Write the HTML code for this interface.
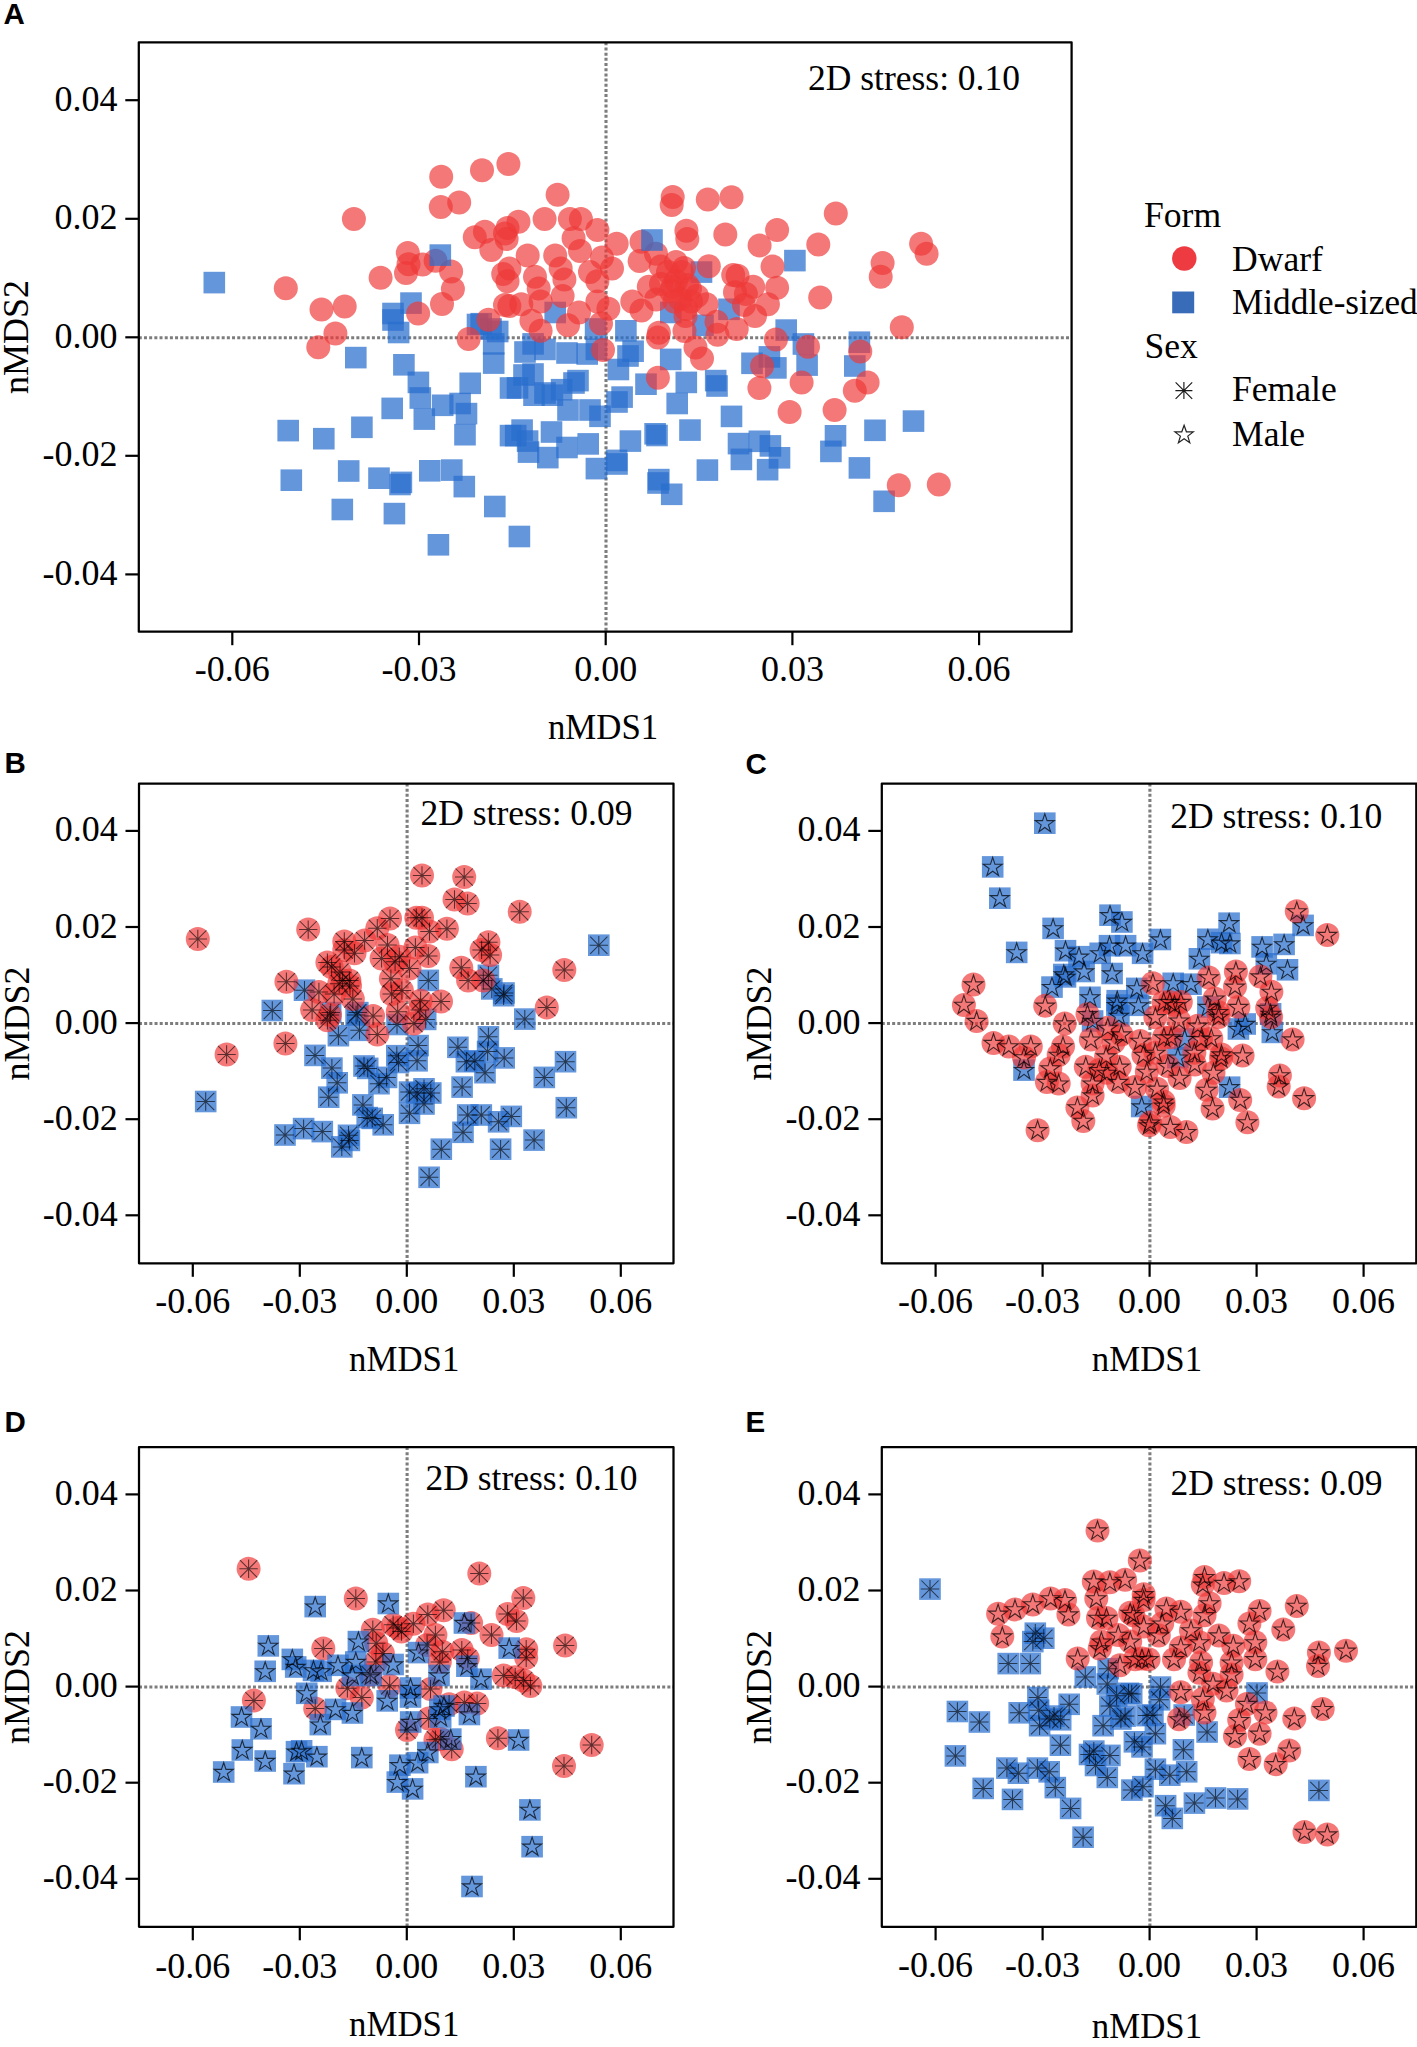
<!DOCTYPE html><html><head><meta charset="utf-8"><style>html,body{margin:0;padding:0;background:#fff;}svg{display:block;font-family:"Liberation Serif", serif;fill:#000;}text{fill:#000;}</style></head><body><svg width="1417" height="2047" viewBox="0 0 1417 2047">
<defs><circle id="c" r="12" fill="#ee3836" fill-opacity="0.68"/><rect id="s" x="-10.8" y="-10.8" width="21.6" height="21.6" fill="#286ecd" fill-opacity="0.72"/><path id="ast" d="M-9.2,0H9.2M0,-9.2V9.2M-8.6,-8.6L8.6,8.6M-8.6,8.6L8.6,-8.6" stroke="#000" stroke-opacity="0.62" stroke-width="1.05" fill="none"/><path id="star" d="M0.00,-9.50L2.25,-2.59L9.51,-2.59L3.63,1.68L5.88,8.59L0.00,4.32L-5.88,8.59L-3.63,1.68L-9.51,-2.59L-2.25,-2.59Z" stroke="#000" stroke-opacity="0.72" stroke-width="1.1" fill="none" stroke-linejoin="miter"/></defs>
<line x1="606" y1="42.3" x2="606" y2="631.7" stroke="#7d7d7d" stroke-width="3.1" stroke-dasharray="3 2.18"/>
<line x1="138.8" y1="337.7" x2="1071.6" y2="337.7" stroke="#7d7d7d" stroke-width="3.1" stroke-dasharray="3 2.18"/>
<use href="#s" x="214.3" y="282.6"/>
<use href="#s" x="355.8" y="357.6"/>
<use href="#s" x="411" y="303.1"/>
<use href="#s" x="393" y="313.5"/>
<use href="#s" x="393" y="320"/>
<use href="#s" x="398.6" y="332.5"/>
<use href="#s" x="477.5" y="324.5"/>
<use href="#s" x="497.7" y="331.5"/>
<use href="#s" x="701.5" y="272.1"/>
<use href="#s" x="670.8" y="312.5"/>
<use href="#s" x="729" y="309.3"/>
<use href="#s" x="703" y="325.3"/>
<use href="#s" x="625.9" y="330.8"/>
<use href="#s" x="595.6" y="329"/>
<use href="#s" x="555.2" y="312.5"/>
<use href="#s" x="491" y="329"/>
<use href="#s" x="794.9" y="260.6"/>
<use href="#s" x="786.2" y="330.1"/>
<use href="#s" x="403.9" y="364.8"/>
<use href="#s" x="418.4" y="382.4"/>
<use href="#s" x="420.3" y="398"/>
<use href="#s" x="424.3" y="419.1"/>
<use href="#s" x="392.2" y="408.4"/>
<use href="#s" x="442.7" y="405.3"/>
<use href="#s" x="460.1" y="403.5"/>
<use href="#s" x="470.2" y="383.3"/>
<use href="#s" x="466.5" y="413.6"/>
<use href="#s" x="465" y="434.7"/>
<use href="#s" x="493.7" y="343.9"/>
<use href="#s" x="493.7" y="363.1"/>
<use href="#s" x="481.2" y="323.7"/>
<use href="#s" x="288.2" y="430.6"/>
<use href="#s" x="323.8" y="438.7"/>
<use href="#s" x="361.9" y="427.3"/>
<use href="#s" x="291.3" y="480.2"/>
<use href="#s" x="348.7" y="471"/>
<use href="#s" x="379" y="478.2"/>
<use href="#s" x="401.4" y="482.4"/>
<use href="#s" x="400" y="484.5"/>
<use href="#s" x="429.8" y="470.8"/>
<use href="#s" x="451.8" y="470.1"/>
<use href="#s" x="464.3" y="486.6"/>
<use href="#s" x="342.3" y="509.5"/>
<use href="#s" x="394.4" y="513.6"/>
<use href="#s" x="438.4" y="544.8"/>
<use href="#s" x="494.8" y="506.5"/>
<use href="#s" x="510.5" y="388"/>
<use href="#s" x="510.5" y="435.6"/>
<use href="#s" x="533.1" y="343.9"/>
<use href="#s" x="545" y="349.4"/>
<use href="#s" x="567" y="353"/>
<use href="#s" x="587.2" y="354"/>
<use href="#s" x="596.4" y="349.4"/>
<use href="#s" x="633.1" y="351.2"/>
<use href="#s" x="618.4" y="369.5"/>
<use href="#s" x="670.7" y="359.4"/>
<use href="#s" x="686.3" y="382.4"/>
<use href="#s" x="715.7" y="380.6"/>
<use href="#s" x="524" y="375"/>
<use href="#s" x="517.5" y="387.9"/>
<use href="#s" x="534" y="395.2"/>
<use href="#s" x="552.4" y="395.2"/>
<use href="#s" x="561.6" y="389.7"/>
<use href="#s" x="578" y="380.6"/>
<use href="#s" x="568" y="410"/>
<use href="#s" x="590" y="410"/>
<use href="#s" x="600" y="416.3"/>
<use href="#s" x="622.1" y="397.1"/>
<use href="#s" x="646" y="384.2"/>
<use href="#s" x="677.2" y="403.5"/>
<use href="#s" x="522.1" y="430.1"/>
<use href="#s" x="515.7" y="435.6"/>
<use href="#s" x="527.6" y="441.1"/>
<use href="#s" x="551.5" y="432"/>
<use href="#s" x="528.5" y="452.1"/>
<use href="#s" x="547.8" y="457.6"/>
<use href="#s" x="567" y="447.5"/>
<use href="#s" x="588.2" y="443.9"/>
<use href="#s" x="596.4" y="468.6"/>
<use href="#s" x="616.6" y="460.4"/>
<use href="#s" x="630.4" y="441.1"/>
<use href="#s" x="655.1" y="433.8"/>
<use href="#s" x="690" y="430.1"/>
<use href="#s" x="731.5" y="416.4"/>
<use href="#s" x="738.5" y="443.6"/>
<use href="#s" x="741.4" y="459.4"/>
<use href="#s" x="707.4" y="470.1"/>
<use href="#s" x="658.8" y="479.6"/>
<use href="#s" x="671.7" y="494.3"/>
<use href="#s" x="519.4" y="536.5"/>
<use href="#s" x="803.4" y="344"/>
<use href="#s" x="807.1" y="365.1"/>
<use href="#s" x="859.4" y="342.2"/>
<use href="#s" x="854.8" y="366"/>
<use href="#s" x="752" y="363.3"/>
<use href="#s" x="769.4" y="356.9"/>
<use href="#s" x="775.9" y="367.9"/>
<use href="#s" x="759.4" y="441.3"/>
<use href="#s" x="770.4" y="445.9"/>
<use href="#s" x="779.5" y="457.8"/>
<use href="#s" x="767.6" y="469.7"/>
<use href="#s" x="835.5" y="435.8"/>
<use href="#s" x="830.9" y="451.4"/>
<use href="#s" x="875" y="430.3"/>
<use href="#s" x="913.5" y="421.1"/>
<use href="#s" x="859.4" y="467.9"/>
<use href="#s" x="884.1" y="501.3"/>
<use href="#s" x="717" y="386"/>
<use href="#s" x="657" y="435.5"/>
<use href="#s" x="658" y="483"/>
<use href="#s" x="617" y="464"/>
<use href="#s" x="533" y="374"/>
<use href="#s" x="545" y="393"/>
<use href="#s" x="574" y="383"/>
<use href="#s" x="525" y="352"/>
<use href="#s" x="628" y="356"/>
<use href="#s" x="617" y="402"/>
<use href="#c" x="285.8" y="288.2"/>
<use href="#c" x="353.9" y="218.9"/>
<use href="#c" x="321.5" y="309.5"/>
<use href="#c" x="344.7" y="306.5"/>
<use href="#c" x="335.4" y="333.5"/>
<use href="#c" x="318.3" y="347.3"/>
<use href="#c" x="380.6" y="277.7"/>
<use href="#c" x="407.8" y="252.9"/>
<use href="#c" x="408.5" y="264.2"/>
<use href="#c" x="406" y="273.1"/>
<use href="#c" x="422.5" y="264.5"/>
<use href="#c" x="435.6" y="260.8"/>
<use href="#c" x="451.1" y="271.4"/>
<use href="#c" x="452.9" y="289"/>
<use href="#c" x="442" y="304.1"/>
<use href="#c" x="418.1" y="313.6"/>
<use href="#c" x="441.2" y="176.7"/>
<use href="#c" x="482" y="170.3"/>
<use href="#c" x="508.4" y="163.9"/>
<use href="#c" x="440.8" y="207"/>
<use href="#c" x="459.2" y="202.4"/>
<use href="#c" x="474.8" y="237.2"/>
<use href="#c" x="484.9" y="231.7"/>
<use href="#c" x="491.3" y="250"/>
<use href="#c" x="505" y="233.6"/>
<use href="#c" x="503.2" y="274"/>
<use href="#c" x="505" y="305"/>
<use href="#c" x="488.5" y="319.8"/>
<use href="#c" x="468.6" y="339"/>
<use href="#c" x="557.6" y="194.7"/>
<use href="#c" x="544.6" y="218.9"/>
<use href="#c" x="569.9" y="218.9"/>
<use href="#c" x="580.9" y="218.9"/>
<use href="#c" x="518.5" y="221.7"/>
<use href="#c" x="507.5" y="228"/>
<use href="#c" x="597.4" y="229.9"/>
<use href="#c" x="573.6" y="238.2"/>
<use href="#c" x="506.6" y="239.1"/>
<use href="#c" x="527.7" y="255.6"/>
<use href="#c" x="555.2" y="255.6"/>
<use href="#c" x="580" y="251"/>
<use href="#c" x="602" y="257.4"/>
<use href="#c" x="612" y="268.4"/>
<use href="#c" x="509.4" y="268.4"/>
<use href="#c" x="535" y="276.7"/>
<use href="#c" x="560.7" y="268.4"/>
<use href="#c" x="564.4" y="279.4"/>
<use href="#c" x="590" y="272"/>
<use href="#c" x="597.4" y="281.3"/>
<use href="#c" x="507.5" y="281.3"/>
<use href="#c" x="538.7" y="288.6"/>
<use href="#c" x="509.4" y="306"/>
<use href="#c" x="521.3" y="304.2"/>
<use href="#c" x="540.6" y="301.5"/>
<use href="#c" x="562.6" y="296"/>
<use href="#c" x="579" y="312.5"/>
<use href="#c" x="597.4" y="301.5"/>
<use href="#c" x="608.4" y="308.8"/>
<use href="#c" x="531.4" y="320.7"/>
<use href="#c" x="540.6" y="330.8"/>
<use href="#c" x="568" y="325.3"/>
<use href="#c" x="601" y="323.5"/>
<use href="#c" x="672.7" y="196.9"/>
<use href="#c" x="671.7" y="205.1"/>
<use href="#c" x="707.8" y="199.6"/>
<use href="#c" x="731.5" y="197.2"/>
<use href="#c" x="686.4" y="230.8"/>
<use href="#c" x="687.3" y="239.1"/>
<use href="#c" x="725.3" y="234.5"/>
<use href="#c" x="616.7" y="243.7"/>
<use href="#c" x="641.5" y="241.8"/>
<use href="#c" x="656" y="253.8"/>
<use href="#c" x="639.6" y="261.1"/>
<use href="#c" x="660.7" y="266.6"/>
<use href="#c" x="708.8" y="266.2"/>
<use href="#c" x="681.8" y="272.1"/>
<use href="#c" x="733.2" y="274.9"/>
<use href="#c" x="735" y="292.3"/>
<use href="#c" x="648.8" y="286.8"/>
<use href="#c" x="672.7" y="286.8"/>
<use href="#c" x="687.3" y="285"/>
<use href="#c" x="632.3" y="301.5"/>
<use href="#c" x="641.5" y="310.6"/>
<use href="#c" x="656.1" y="299.6"/>
<use href="#c" x="674.5" y="301.5"/>
<use href="#c" x="691" y="301.5"/>
<use href="#c" x="706.5" y="304.2"/>
<use href="#c" x="685.5" y="316.1"/>
<use href="#c" x="658.9" y="332.7"/>
<use href="#c" x="835.8" y="213.4"/>
<use href="#c" x="777.1" y="229.9"/>
<use href="#c" x="759.6" y="245.5"/>
<use href="#c" x="818.3" y="244.6"/>
<use href="#c" x="772.5" y="266.6"/>
<use href="#c" x="737.6" y="275.8"/>
<use href="#c" x="753.2" y="286.8"/>
<use href="#c" x="777.1" y="287.7"/>
<use href="#c" x="745.9" y="294.1"/>
<use href="#c" x="767.9" y="304.2"/>
<use href="#c" x="755" y="316.1"/>
<use href="#c" x="744" y="305.1"/>
<use href="#c" x="820.2" y="297.5"/>
<use href="#c" x="882.6" y="262.9"/>
<use href="#c" x="880.7" y="276.7"/>
<use href="#c" x="921.1" y="243.7"/>
<use href="#c" x="926.6" y="253.8"/>
<use href="#c" x="901.8" y="327.3"/>
<use href="#c" x="716.5" y="321.7"/>
<use href="#c" x="736.7" y="329"/>
<use href="#c" x="657.9" y="337.4"/>
<use href="#c" x="657.9" y="377.8"/>
<use href="#c" x="695.5" y="347.5"/>
<use href="#c" x="702" y="358.5"/>
<use href="#c" x="717.5" y="334.7"/>
<use href="#c" x="684.5" y="331"/>
<use href="#c" x="603" y="350"/>
<use href="#c" x="775.9" y="339.4"/>
<use href="#c" x="808" y="346.8"/>
<use href="#c" x="762.1" y="366"/>
<use href="#c" x="759.4" y="388"/>
<use href="#c" x="801.6" y="382.6"/>
<use href="#c" x="789.6" y="412"/>
<use href="#c" x="834.6" y="410.1"/>
<use href="#c" x="860.3" y="351.4"/>
<use href="#c" x="867.6" y="382.6"/>
<use href="#c" x="854.8" y="390.8"/>
<use href="#c" x="898.8" y="485.3"/>
<use href="#c" x="938.8" y="484.4"/>
<use href="#c" x="668" y="272"/>
<use href="#c" x="676" y="281"/>
<use href="#c" x="684" y="268"/>
<use href="#c" x="690" y="289"/>
<use href="#c" x="680" y="299"/>
<use href="#c" x="671" y="291"/>
<use href="#c" x="661" y="284"/>
<use href="#c" x="697" y="296"/>
<use href="#c" x="686" y="309"/>
<use href="#c" x="676" y="262"/>
<use href="#s" x="440.3" y="255.1"/>
<use href="#s" x="652" y="240"/>
<rect x="138.8" y="42.3" width="932.8" height="589.4" fill="none" stroke="#000" stroke-width="2.25" stroke-linejoin="round"/>
<line x1="232.3" y1="631.7" x2="232.3" y2="645.2" stroke="#000" stroke-width="2.2"/>
<text x="232.3" y="681" font-size="36" text-anchor="middle" >-0.06</text>
<line x1="419" y1="631.7" x2="419" y2="645.2" stroke="#000" stroke-width="2.2"/>
<text x="419" y="681" font-size="36" text-anchor="middle" >-0.03</text>
<line x1="605.7" y1="631.7" x2="605.7" y2="645.2" stroke="#000" stroke-width="2.2"/>
<text x="605.7" y="681" font-size="36" text-anchor="middle" >0.00</text>
<line x1="792.4" y1="631.7" x2="792.4" y2="645.2" stroke="#000" stroke-width="2.2"/>
<text x="792.4" y="681" font-size="36" text-anchor="middle" >0.03</text>
<line x1="979.1" y1="631.7" x2="979.1" y2="645.2" stroke="#000" stroke-width="2.2"/>
<text x="979.1" y="681" font-size="36" text-anchor="middle" >0.06</text>
<line x1="125.3" y1="100.2" x2="138.8" y2="100.2" stroke="#000" stroke-width="2.2"/>
<text x="117.6" y="110.7" font-size="36" text-anchor="end" >0.04</text>
<line x1="125.3" y1="218.8" x2="138.8" y2="218.8" stroke="#000" stroke-width="2.2"/>
<text x="117.6" y="229.3" font-size="36" text-anchor="end" >0.02</text>
<line x1="125.3" y1="337.3" x2="138.8" y2="337.3" stroke="#000" stroke-width="2.2"/>
<text x="117.6" y="347.8" font-size="36" text-anchor="end" >0.00</text>
<line x1="125.3" y1="455.8" x2="138.8" y2="455.8" stroke="#000" stroke-width="2.2"/>
<text x="117.6" y="466.3" font-size="36" text-anchor="end" >-0.02</text>
<line x1="125.3" y1="574.4" x2="138.8" y2="574.4" stroke="#000" stroke-width="2.2"/>
<text x="117.6" y="584.9" font-size="36" text-anchor="end" >-0.04</text>
<text x="0" y="0" font-size="36" text-anchor="middle" transform="translate(603.1,739.2) scale(0.967,1)">nMDS1</text>
<text x="0" y="0" font-size="36" text-anchor="middle" transform="translate(28.3,337) rotate(-90)">nMDS2</text>
<text x="1020" y="90.3" font-size="35.5" text-anchor="end" >2D stress: 0.10</text>
<text x="3.5" y="23.8" font-family="Liberation Sans, sans-serif" font-weight="bold" font-size="29.5">A</text>
<line x1="407.1" y1="783.5" x2="407.1" y2="1263.3" stroke="#7d7d7d" stroke-width="3.1" stroke-dasharray="3 2.18"/>
<line x1="139" y1="1023.5" x2="673.5" y2="1023.5" stroke="#7d7d7d" stroke-width="3.1" stroke-dasharray="3 2.18"/>
<use href="#s" x="272.3" y="1010.5"/>
<use href="#s" x="304.5" y="990.2"/>
<use href="#s" x="330.7" y="1012.6"/>
<use href="#s" x="357.8" y="1012.6"/>
<use href="#s" x="598.8" y="945.2"/>
<use href="#s" x="524.8" y="1019.1"/>
<use href="#s" x="428.3" y="980.4"/>
<use href="#s" x="488.4" y="975.3"/>
<use href="#s" x="491.8" y="988.9"/>
<use href="#s" x="503.6" y="995.7"/>
<use href="#s" x="397" y="1024.5"/>
<use href="#s" x="425.7" y="1019.4"/>
<use href="#s" x="205.7" y="1101.5"/>
<use href="#s" x="338.4" y="1035.7"/>
<use href="#s" x="359.5" y="1030.3"/>
<use href="#s" x="356.1" y="1015"/>
<use href="#s" x="315" y="1055.4"/>
<use href="#s" x="331.9" y="1068.1"/>
<use href="#s" x="337.2" y="1082.8"/>
<use href="#s" x="328.7" y="1097.2"/>
<use href="#s" x="367.7" y="1068.4"/>
<use href="#s" x="386.6" y="1077.4"/>
<use href="#s" x="379" y="1083.7"/>
<use href="#s" x="396.8" y="1055.7"/>
<use href="#s" x="398.5" y="1062.5"/>
<use href="#s" x="417.1" y="1060.8"/>
<use href="#s" x="362.9" y="1104.9"/>
<use href="#s" x="367.2" y="1117.6"/>
<use href="#s" x="372.2" y="1118.4"/>
<use href="#s" x="383.2" y="1124.8"/>
<use href="#s" x="409.5" y="1092.1"/>
<use href="#s" x="409.5" y="1113.3"/>
<use href="#s" x="417.1" y="1093"/>
<use href="#s" x="285" y="1135"/>
<use href="#s" x="303.6" y="1128.6"/>
<use href="#s" x="322.3" y="1131.6"/>
<use href="#s" x="348.5" y="1135.3"/>
<use href="#s" x="349.4" y="1140.4"/>
<use href="#s" x="341.8" y="1146.9"/>
<use href="#s" x="488.4" y="1036.8"/>
<use href="#s" x="457.9" y="1047.3"/>
<use href="#s" x="487.6" y="1051.5"/>
<use href="#s" x="466.4" y="1061.7"/>
<use href="#s" x="474.8" y="1060.8"/>
<use href="#s" x="485" y="1072.7"/>
<use href="#s" x="504.2" y="1057.9"/>
<use href="#s" x="565.5" y="1061.7"/>
<use href="#s" x="544.3" y="1077.4"/>
<use href="#s" x="566.3" y="1107.7"/>
<use href="#s" x="462.1" y="1087.1"/>
<use href="#s" x="467.7" y="1115"/>
<use href="#s" x="481.3" y="1115"/>
<use href="#s" x="498.6" y="1121.8"/>
<use href="#s" x="511.3" y="1116.4"/>
<use href="#s" x="463" y="1132.3"/>
<use href="#s" x="441.3" y="1149.2"/>
<use href="#s" x="500.6" y="1149.2"/>
<use href="#s" x="534.1" y="1140.1"/>
<use href="#s" x="429.1" y="1177.3"/>
<use href="#s" x="418.1" y="1045.6"/>
<use href="#s" x="424" y="1088.8"/>
<use href="#s" x="430.8" y="1093"/>
<use href="#s" x="424" y="1104"/>
<use href="#s" x="504" y="993"/>
<use href="#s" x="364" y="1066"/>
<use href="#c" x="197.8" y="938.9"/>
<use href="#c" x="308.2" y="929.6"/>
<use href="#c" x="286.4" y="981.8"/>
<use href="#c" x="344.3" y="941.5"/>
<use href="#c" x="364.6" y="940.6"/>
<use href="#c" x="377.3" y="928.3"/>
<use href="#c" x="390" y="918.6"/>
<use href="#c" x="387.5" y="944.9"/>
<use href="#c" x="354.5" y="953.3"/>
<use href="#c" x="344.3" y="950"/>
<use href="#c" x="327.4" y="962.6"/>
<use href="#c" x="331.6" y="966.9"/>
<use href="#c" x="342.6" y="980.4"/>
<use href="#c" x="339.2" y="983.8"/>
<use href="#c" x="349.4" y="980.4"/>
<use href="#c" x="318.9" y="992"/>
<use href="#c" x="334.1" y="994"/>
<use href="#c" x="352.8" y="999"/>
<use href="#c" x="312.1" y="1010"/>
<use href="#c" x="329.9" y="1015.1"/>
<use href="#c" x="373.1" y="1016"/>
<use href="#c" x="381.6" y="958.4"/>
<use href="#c" x="399.3" y="956.7"/>
<use href="#c" x="395.1" y="961.8"/>
<use href="#c" x="409.5" y="968.6"/>
<use href="#c" x="390.9" y="978.7"/>
<use href="#c" x="401.9" y="990.6"/>
<use href="#c" x="391.7" y="994"/>
<use href="#c" x="397.7" y="1011.8"/>
<use href="#c" x="415.4" y="947.4"/>
<use href="#c" x="416.3" y="917.8"/>
<use href="#c" x="422" y="875.4"/>
<use href="#c" x="464.2" y="877.1"/>
<use href="#c" x="454.5" y="899.5"/>
<use href="#c" x="467.6" y="903.4"/>
<use href="#c" x="519.7" y="911.8"/>
<use href="#c" x="564.3" y="969.9"/>
<use href="#c" x="546.8" y="1007.5"/>
<use href="#c" x="422" y="917.8"/>
<use href="#c" x="429.5" y="931.6"/>
<use href="#c" x="446.9" y="928.8"/>
<use href="#c" x="428.3" y="955.9"/>
<use href="#c" x="420.6" y="1000.7"/>
<use href="#c" x="441" y="1001.6"/>
<use href="#c" x="419.8" y="1010"/>
<use href="#c" x="488.4" y="942.3"/>
<use href="#c" x="481.6" y="949.9"/>
<use href="#c" x="490.1" y="955"/>
<use href="#c" x="461.3" y="967.7"/>
<use href="#c" x="468.1" y="980.4"/>
<use href="#c" x="483.3" y="980.4"/>
<use href="#c" x="413.9" y="1023.5"/>
<use href="#c" x="226.6" y="1054.4"/>
<use href="#c" x="285.4" y="1043.4"/>
<use href="#c" x="327.4" y="1020.2"/>
<use href="#c" x="377.3" y="1034.6"/>
<use href="#c" x="340" y="972"/>
<use href="#c" x="350" y="986"/>
<use href="#ast" x="272.3" y="1010.5"/>
<use href="#ast" x="304.5" y="990.2"/>
<use href="#ast" x="330.7" y="1012.6"/>
<use href="#ast" x="357.8" y="1012.6"/>
<use href="#ast" x="598.8" y="945.2"/>
<use href="#ast" x="524.8" y="1019.1"/>
<use href="#ast" x="428.3" y="980.4"/>
<use href="#ast" x="488.4" y="975.3"/>
<use href="#ast" x="491.8" y="988.9"/>
<use href="#ast" x="503.6" y="995.7"/>
<use href="#ast" x="397" y="1024.5"/>
<use href="#ast" x="425.7" y="1019.4"/>
<use href="#ast" x="205.7" y="1101.5"/>
<use href="#ast" x="338.4" y="1035.7"/>
<use href="#ast" x="359.5" y="1030.3"/>
<use href="#ast" x="356.1" y="1015"/>
<use href="#ast" x="315" y="1055.4"/>
<use href="#ast" x="331.9" y="1068.1"/>
<use href="#ast" x="337.2" y="1082.8"/>
<use href="#ast" x="328.7" y="1097.2"/>
<use href="#ast" x="367.7" y="1068.4"/>
<use href="#ast" x="386.6" y="1077.4"/>
<use href="#ast" x="379" y="1083.7"/>
<use href="#ast" x="396.8" y="1055.7"/>
<use href="#ast" x="398.5" y="1062.5"/>
<use href="#ast" x="417.1" y="1060.8"/>
<use href="#ast" x="362.9" y="1104.9"/>
<use href="#ast" x="367.2" y="1117.6"/>
<use href="#ast" x="372.2" y="1118.4"/>
<use href="#ast" x="383.2" y="1124.8"/>
<use href="#ast" x="409.5" y="1092.1"/>
<use href="#ast" x="409.5" y="1113.3"/>
<use href="#ast" x="417.1" y="1093"/>
<use href="#ast" x="285" y="1135"/>
<use href="#ast" x="303.6" y="1128.6"/>
<use href="#ast" x="322.3" y="1131.6"/>
<use href="#ast" x="348.5" y="1135.3"/>
<use href="#ast" x="349.4" y="1140.4"/>
<use href="#ast" x="341.8" y="1146.9"/>
<use href="#ast" x="488.4" y="1036.8"/>
<use href="#ast" x="457.9" y="1047.3"/>
<use href="#ast" x="487.6" y="1051.5"/>
<use href="#ast" x="466.4" y="1061.7"/>
<use href="#ast" x="474.8" y="1060.8"/>
<use href="#ast" x="485" y="1072.7"/>
<use href="#ast" x="504.2" y="1057.9"/>
<use href="#ast" x="565.5" y="1061.7"/>
<use href="#ast" x="544.3" y="1077.4"/>
<use href="#ast" x="566.3" y="1107.7"/>
<use href="#ast" x="462.1" y="1087.1"/>
<use href="#ast" x="467.7" y="1115"/>
<use href="#ast" x="481.3" y="1115"/>
<use href="#ast" x="498.6" y="1121.8"/>
<use href="#ast" x="511.3" y="1116.4"/>
<use href="#ast" x="463" y="1132.3"/>
<use href="#ast" x="441.3" y="1149.2"/>
<use href="#ast" x="500.6" y="1149.2"/>
<use href="#ast" x="534.1" y="1140.1"/>
<use href="#ast" x="429.1" y="1177.3"/>
<use href="#ast" x="418.1" y="1045.6"/>
<use href="#ast" x="424" y="1088.8"/>
<use href="#ast" x="430.8" y="1093"/>
<use href="#ast" x="424" y="1104"/>
<use href="#ast" x="504" y="993"/>
<use href="#ast" x="364" y="1066"/>
<use href="#ast" x="197.8" y="938.9"/>
<use href="#ast" x="308.2" y="929.6"/>
<use href="#ast" x="286.4" y="981.8"/>
<use href="#ast" x="344.3" y="941.5"/>
<use href="#ast" x="364.6" y="940.6"/>
<use href="#ast" x="377.3" y="928.3"/>
<use href="#ast" x="390" y="918.6"/>
<use href="#ast" x="387.5" y="944.9"/>
<use href="#ast" x="354.5" y="953.3"/>
<use href="#ast" x="344.3" y="950"/>
<use href="#ast" x="327.4" y="962.6"/>
<use href="#ast" x="331.6" y="966.9"/>
<use href="#ast" x="342.6" y="980.4"/>
<use href="#ast" x="339.2" y="983.8"/>
<use href="#ast" x="349.4" y="980.4"/>
<use href="#ast" x="318.9" y="992"/>
<use href="#ast" x="334.1" y="994"/>
<use href="#ast" x="352.8" y="999"/>
<use href="#ast" x="312.1" y="1010"/>
<use href="#ast" x="329.9" y="1015.1"/>
<use href="#ast" x="373.1" y="1016"/>
<use href="#ast" x="381.6" y="958.4"/>
<use href="#ast" x="399.3" y="956.7"/>
<use href="#ast" x="395.1" y="961.8"/>
<use href="#ast" x="409.5" y="968.6"/>
<use href="#ast" x="390.9" y="978.7"/>
<use href="#ast" x="401.9" y="990.6"/>
<use href="#ast" x="391.7" y="994"/>
<use href="#ast" x="397.7" y="1011.8"/>
<use href="#ast" x="415.4" y="947.4"/>
<use href="#ast" x="416.3" y="917.8"/>
<use href="#ast" x="422" y="875.4"/>
<use href="#ast" x="464.2" y="877.1"/>
<use href="#ast" x="454.5" y="899.5"/>
<use href="#ast" x="467.6" y="903.4"/>
<use href="#ast" x="519.7" y="911.8"/>
<use href="#ast" x="564.3" y="969.9"/>
<use href="#ast" x="546.8" y="1007.5"/>
<use href="#ast" x="422" y="917.8"/>
<use href="#ast" x="429.5" y="931.6"/>
<use href="#ast" x="446.9" y="928.8"/>
<use href="#ast" x="428.3" y="955.9"/>
<use href="#ast" x="420.6" y="1000.7"/>
<use href="#ast" x="441" y="1001.6"/>
<use href="#ast" x="419.8" y="1010"/>
<use href="#ast" x="488.4" y="942.3"/>
<use href="#ast" x="481.6" y="949.9"/>
<use href="#ast" x="490.1" y="955"/>
<use href="#ast" x="461.3" y="967.7"/>
<use href="#ast" x="468.1" y="980.4"/>
<use href="#ast" x="483.3" y="980.4"/>
<use href="#ast" x="413.9" y="1023.5"/>
<use href="#ast" x="226.6" y="1054.4"/>
<use href="#ast" x="285.4" y="1043.4"/>
<use href="#ast" x="327.4" y="1020.2"/>
<use href="#ast" x="377.3" y="1034.6"/>
<use href="#ast" x="340" y="972"/>
<use href="#ast" x="350" y="986"/>
<rect x="139" y="783.5" width="534.5" height="479.8" fill="none" stroke="#000" stroke-width="2.25" stroke-linejoin="round"/>
<line x1="192.8" y1="1263.3" x2="192.8" y2="1276.8" stroke="#000" stroke-width="2.2"/>
<text x="192.8" y="1312.6" font-size="36" text-anchor="middle" >-0.06</text>
<line x1="299.8" y1="1263.3" x2="299.8" y2="1276.8" stroke="#000" stroke-width="2.2"/>
<text x="299.8" y="1312.6" font-size="36" text-anchor="middle" >-0.03</text>
<line x1="406.8" y1="1263.3" x2="406.8" y2="1276.8" stroke="#000" stroke-width="2.2"/>
<text x="406.8" y="1312.6" font-size="36" text-anchor="middle" >0.00</text>
<line x1="513.8" y1="1263.3" x2="513.8" y2="1276.8" stroke="#000" stroke-width="2.2"/>
<text x="513.8" y="1312.6" font-size="36" text-anchor="middle" >0.03</text>
<line x1="620.8" y1="1263.3" x2="620.8" y2="1276.8" stroke="#000" stroke-width="2.2"/>
<text x="620.8" y="1312.6" font-size="36" text-anchor="middle" >0.06</text>
<line x1="125.5" y1="830.9" x2="139" y2="830.9" stroke="#000" stroke-width="2.2"/>
<text x="117.8" y="841.4" font-size="36" text-anchor="end" >0.04</text>
<line x1="125.5" y1="927" x2="139" y2="927" stroke="#000" stroke-width="2.2"/>
<text x="117.8" y="937.5" font-size="36" text-anchor="end" >0.02</text>
<line x1="125.5" y1="1023.1" x2="139" y2="1023.1" stroke="#000" stroke-width="2.2"/>
<text x="117.8" y="1033.6" font-size="36" text-anchor="end" >0.00</text>
<line x1="125.5" y1="1119.2" x2="139" y2="1119.2" stroke="#000" stroke-width="2.2"/>
<text x="117.8" y="1129.7" font-size="36" text-anchor="end" >-0.02</text>
<line x1="125.5" y1="1215.3" x2="139" y2="1215.3" stroke="#000" stroke-width="2.2"/>
<text x="117.8" y="1225.8" font-size="36" text-anchor="end" >-0.04</text>
<text x="0" y="0" font-size="36" text-anchor="middle" transform="translate(404.2,1370.8) scale(0.967,1)">nMDS1</text>
<text x="0" y="0" font-size="36" text-anchor="middle" transform="translate(28.5,1023.4) rotate(-90)">nMDS2</text>
<text x="632.5" y="825" font-size="35.5" text-anchor="end" >2D stress: 0.09</text>
<text x="4.5" y="772.8" font-family="Liberation Sans, sans-serif" font-weight="bold" font-size="29.5">B</text>
<line x1="1149.9" y1="783.5" x2="1149.9" y2="1263.3" stroke="#7d7d7d" stroke-width="3.1" stroke-dasharray="3 2.18"/>
<line x1="881.8" y1="1023.5" x2="1416.3" y2="1023.5" stroke="#7d7d7d" stroke-width="3.1" stroke-dasharray="3 2.18"/>
<use href="#s" x="1044.8" y="823.2"/>
<use href="#s" x="992.7" y="866.9"/>
<use href="#s" x="999.8" y="898.2"/>
<use href="#s" x="1053.1" y="928.4"/>
<use href="#s" x="1016.7" y="952.4"/>
<use href="#s" x="1110" y="915.2"/>
<use href="#s" x="1121.9" y="922"/>
<use href="#s" x="1065.5" y="950.7"/>
<use href="#s" x="1079" y="956.7"/>
<use href="#s" x="1100.2" y="953.3"/>
<use href="#s" x="1109.5" y="945.7"/>
<use href="#s" x="1125.6" y="945.7"/>
<use href="#s" x="1142.6" y="953.3"/>
<use href="#s" x="1160.4" y="939.5"/>
<use href="#s" x="1084.1" y="971.5"/>
<use href="#s" x="1063.8" y="974.5"/>
<use href="#s" x="1112.1" y="973.5"/>
<use href="#s" x="1229.1" y="923.2"/>
<use href="#s" x="1207.9" y="939.3"/>
<use href="#s" x="1221.5" y="942.7"/>
<use href="#s" x="1229.9" y="943.5"/>
<use href="#s" x="1199.4" y="958.8"/>
<use href="#s" x="1303.1" y="925.4"/>
<use href="#s" x="1262.1" y="946.9"/>
<use href="#s" x="1284.1" y="944.4"/>
<use href="#s" x="1266.3" y="963.8"/>
<use href="#s" x="1287.5" y="969.8"/>
<use href="#s" x="1173.2" y="983.3"/>
<use href="#s" x="1191" y="984.2"/>
<use href="#s" x="1136.8" y="988.4"/>
<use href="#s" x="1138.5" y="1005.3"/>
<use href="#s" x="1207.9" y="1007"/>
<use href="#s" x="1245.2" y="1024"/>
<use href="#s" x="1238.4" y="1029"/>
<use href="#s" x="1272.3" y="1032.4"/>
<use href="#s" x="1270.6" y="1013.8"/>
<use href="#s" x="1024" y="1070.1"/>
<use href="#s" x="1141.7" y="1106.5"/>
<use href="#s" x="1052" y="987.1"/>
<use href="#s" x="1065.5" y="976.9"/>
<use href="#s" x="1090" y="997.3"/>
<use href="#s" x="1117.2" y="1000.7"/>
<use href="#s" x="1118.9" y="1015.9"/>
<use href="#s" x="1092.6" y="1021"/>
<use href="#s" x="1229.6" y="1087.2"/>
<use href="#s" x="1116.9" y="1005.1"/>
<use href="#s" x="1184.7" y="1039"/>
<use href="#s" x="1177.9" y="1057.6"/>
<use href="#c" x="1296.8" y="911.3"/>
<use href="#c" x="1327.3" y="935"/>
<use href="#c" x="1152.9" y="983.3"/>
<use href="#c" x="1208.8" y="977.4"/>
<use href="#c" x="1235.9" y="971.5"/>
<use href="#c" x="1235" y="986.7"/>
<use href="#c" x="1260.4" y="976.5"/>
<use href="#c" x="1271.4" y="991.8"/>
<use href="#c" x="1267.2" y="1007.9"/>
<use href="#c" x="1238.4" y="1007"/>
<use href="#c" x="1214.7" y="998.6"/>
<use href="#c" x="1218.1" y="1012.1"/>
<use href="#c" x="1169.8" y="1002"/>
<use href="#c" x="1180.8" y="1002"/>
<use href="#c" x="1155.4" y="1017.2"/>
<use href="#c" x="1179.1" y="1020.6"/>
<use href="#c" x="1197.8" y="1025.7"/>
<use href="#c" x="1211.3" y="1038.4"/>
<use href="#c" x="1201.1" y="1039.2"/>
<use href="#c" x="1163.9" y="1037.5"/>
<use href="#c" x="1140.2" y="1040.9"/>
<use href="#c" x="1292.6" y="1039.5"/>
<use href="#c" x="1221.5" y="1054.5"/>
<use href="#c" x="1242.6" y="1055.5"/>
<use href="#c" x="1194.4" y="1052.8"/>
<use href="#c" x="1155.4" y="1052.8"/>
<use href="#c" x="973.5" y="984.5"/>
<use href="#c" x="963.9" y="1004.9"/>
<use href="#c" x="976.6" y="1021"/>
<use href="#c" x="993.5" y="1043"/>
<use href="#c" x="1008.8" y="1046.4"/>
<use href="#c" x="1030.8" y="1046.4"/>
<use href="#c" x="1024" y="1057.4"/>
<use href="#c" x="1045.2" y="1005.7"/>
<use href="#c" x="1064.7" y="1023.5"/>
<use href="#c" x="1063" y="1046.4"/>
<use href="#c" x="1058.7" y="1054.9"/>
<use href="#c" x="1050.3" y="1068.4"/>
<use href="#c" x="1046.9" y="1082"/>
<use href="#c" x="1058.7" y="1083.6"/>
<use href="#c" x="1087.5" y="1014.2"/>
<use href="#c" x="1090.9" y="1039.6"/>
<use href="#c" x="1107.8" y="1027.8"/>
<use href="#c" x="1121.4" y="1034.5"/>
<use href="#c" x="1106.1" y="1056.5"/>
<use href="#c" x="1085.8" y="1066.7"/>
<use href="#c" x="1099.4" y="1070.1"/>
<use href="#c" x="1119.7" y="1066.7"/>
<use href="#c" x="1143.4" y="1054.9"/>
<use href="#c" x="1146.8" y="1071.8"/>
<use href="#c" x="1092.6" y="1083.6"/>
<use href="#c" x="1118" y="1082"/>
<use href="#c" x="1135" y="1087"/>
<use href="#c" x="1157" y="1088.7"/>
<use href="#c" x="1092.6" y="1095.5"/>
<use href="#c" x="1077.4" y="1107.4"/>
<use href="#c" x="1083.3" y="1120.9"/>
<use href="#c" x="1150.2" y="1122.6"/>
<use href="#c" x="1163.7" y="1105.7"/>
<use href="#c" x="1037.6" y="1130.2"/>
<use href="#c" x="1163.7" y="1002.3"/>
<use href="#c" x="1221.1" y="1058.4"/>
<use href="#c" x="1213.5" y="1072.8"/>
<use href="#c" x="1279.9" y="1075.4"/>
<use href="#c" x="1278.7" y="1086.4"/>
<use href="#c" x="1304.1" y="1098.2"/>
<use href="#c" x="1206.7" y="1089.8"/>
<use href="#c" x="1212.6" y="1108.4"/>
<use href="#c" x="1240.2" y="1099.9"/>
<use href="#c" x="1247.4" y="1122.3"/>
<use href="#c" x="1163.5" y="1101.6"/>
<use href="#c" x="1149.1" y="1125.3"/>
<use href="#c" x="1170.3" y="1127"/>
<use href="#c" x="1186.4" y="1132.1"/>
<use href="#c" x="1106.8" y="1072.8"/>
<use href="#c" x="1179.6" y="1077.9"/>
<use href="#c" x="1194.8" y="1064.4"/>
<use href="#c" x="1171.1" y="1037.3"/>
<use href="#c" x="1113.6" y="1042.3"/>
<use href="#c" x="1174.5" y="1005.1"/>
<use href="#c" x="1218.6" y="1016.9"/>
<use href="#c" x="1271.1" y="1016.9"/>
<use href="#c" x="1167.7" y="1066"/>
<use href="#star" x="1044.8" y="823.2"/>
<use href="#star" x="992.7" y="866.9"/>
<use href="#star" x="999.8" y="898.2"/>
<use href="#star" x="1053.1" y="928.4"/>
<use href="#star" x="1016.7" y="952.4"/>
<use href="#star" x="1110" y="915.2"/>
<use href="#star" x="1121.9" y="922"/>
<use href="#star" x="1065.5" y="950.7"/>
<use href="#star" x="1079" y="956.7"/>
<use href="#star" x="1100.2" y="953.3"/>
<use href="#star" x="1109.5" y="945.7"/>
<use href="#star" x="1125.6" y="945.7"/>
<use href="#star" x="1142.6" y="953.3"/>
<use href="#star" x="1160.4" y="939.5"/>
<use href="#star" x="1084.1" y="971.5"/>
<use href="#star" x="1063.8" y="974.5"/>
<use href="#star" x="1112.1" y="973.5"/>
<use href="#star" x="1229.1" y="923.2"/>
<use href="#star" x="1207.9" y="939.3"/>
<use href="#star" x="1221.5" y="942.7"/>
<use href="#star" x="1229.9" y="943.5"/>
<use href="#star" x="1199.4" y="958.8"/>
<use href="#star" x="1303.1" y="925.4"/>
<use href="#star" x="1262.1" y="946.9"/>
<use href="#star" x="1284.1" y="944.4"/>
<use href="#star" x="1266.3" y="963.8"/>
<use href="#star" x="1287.5" y="969.8"/>
<use href="#star" x="1173.2" y="983.3"/>
<use href="#star" x="1191" y="984.2"/>
<use href="#star" x="1136.8" y="988.4"/>
<use href="#star" x="1138.5" y="1005.3"/>
<use href="#star" x="1207.9" y="1007"/>
<use href="#star" x="1245.2" y="1024"/>
<use href="#star" x="1238.4" y="1029"/>
<use href="#star" x="1272.3" y="1032.4"/>
<use href="#star" x="1270.6" y="1013.8"/>
<use href="#star" x="1024" y="1070.1"/>
<use href="#star" x="1141.7" y="1106.5"/>
<use href="#star" x="1052" y="987.1"/>
<use href="#star" x="1065.5" y="976.9"/>
<use href="#star" x="1090" y="997.3"/>
<use href="#star" x="1117.2" y="1000.7"/>
<use href="#star" x="1118.9" y="1015.9"/>
<use href="#star" x="1092.6" y="1021"/>
<use href="#star" x="1229.6" y="1087.2"/>
<use href="#star" x="1116.9" y="1005.1"/>
<use href="#star" x="1184.7" y="1039"/>
<use href="#star" x="1177.9" y="1057.6"/>
<use href="#star" x="1296.8" y="911.3"/>
<use href="#star" x="1327.3" y="935"/>
<use href="#star" x="1152.9" y="983.3"/>
<use href="#star" x="1208.8" y="977.4"/>
<use href="#star" x="1235.9" y="971.5"/>
<use href="#star" x="1235" y="986.7"/>
<use href="#star" x="1260.4" y="976.5"/>
<use href="#star" x="1271.4" y="991.8"/>
<use href="#star" x="1267.2" y="1007.9"/>
<use href="#star" x="1238.4" y="1007"/>
<use href="#star" x="1214.7" y="998.6"/>
<use href="#star" x="1218.1" y="1012.1"/>
<use href="#star" x="1169.8" y="1002"/>
<use href="#star" x="1180.8" y="1002"/>
<use href="#star" x="1155.4" y="1017.2"/>
<use href="#star" x="1179.1" y="1020.6"/>
<use href="#star" x="1197.8" y="1025.7"/>
<use href="#star" x="1211.3" y="1038.4"/>
<use href="#star" x="1201.1" y="1039.2"/>
<use href="#star" x="1163.9" y="1037.5"/>
<use href="#star" x="1140.2" y="1040.9"/>
<use href="#star" x="1292.6" y="1039.5"/>
<use href="#star" x="1221.5" y="1054.5"/>
<use href="#star" x="1242.6" y="1055.5"/>
<use href="#star" x="1194.4" y="1052.8"/>
<use href="#star" x="1155.4" y="1052.8"/>
<use href="#star" x="973.5" y="984.5"/>
<use href="#star" x="963.9" y="1004.9"/>
<use href="#star" x="976.6" y="1021"/>
<use href="#star" x="993.5" y="1043"/>
<use href="#star" x="1008.8" y="1046.4"/>
<use href="#star" x="1030.8" y="1046.4"/>
<use href="#star" x="1024" y="1057.4"/>
<use href="#star" x="1045.2" y="1005.7"/>
<use href="#star" x="1064.7" y="1023.5"/>
<use href="#star" x="1063" y="1046.4"/>
<use href="#star" x="1058.7" y="1054.9"/>
<use href="#star" x="1050.3" y="1068.4"/>
<use href="#star" x="1046.9" y="1082"/>
<use href="#star" x="1058.7" y="1083.6"/>
<use href="#star" x="1087.5" y="1014.2"/>
<use href="#star" x="1090.9" y="1039.6"/>
<use href="#star" x="1107.8" y="1027.8"/>
<use href="#star" x="1121.4" y="1034.5"/>
<use href="#star" x="1106.1" y="1056.5"/>
<use href="#star" x="1085.8" y="1066.7"/>
<use href="#star" x="1099.4" y="1070.1"/>
<use href="#star" x="1119.7" y="1066.7"/>
<use href="#star" x="1143.4" y="1054.9"/>
<use href="#star" x="1146.8" y="1071.8"/>
<use href="#star" x="1092.6" y="1083.6"/>
<use href="#star" x="1118" y="1082"/>
<use href="#star" x="1135" y="1087"/>
<use href="#star" x="1157" y="1088.7"/>
<use href="#star" x="1092.6" y="1095.5"/>
<use href="#star" x="1077.4" y="1107.4"/>
<use href="#star" x="1083.3" y="1120.9"/>
<use href="#star" x="1150.2" y="1122.6"/>
<use href="#star" x="1163.7" y="1105.7"/>
<use href="#star" x="1037.6" y="1130.2"/>
<use href="#star" x="1163.7" y="1002.3"/>
<use href="#star" x="1221.1" y="1058.4"/>
<use href="#star" x="1213.5" y="1072.8"/>
<use href="#star" x="1279.9" y="1075.4"/>
<use href="#star" x="1278.7" y="1086.4"/>
<use href="#star" x="1304.1" y="1098.2"/>
<use href="#star" x="1206.7" y="1089.8"/>
<use href="#star" x="1212.6" y="1108.4"/>
<use href="#star" x="1240.2" y="1099.9"/>
<use href="#star" x="1247.4" y="1122.3"/>
<use href="#star" x="1163.5" y="1101.6"/>
<use href="#star" x="1149.1" y="1125.3"/>
<use href="#star" x="1170.3" y="1127"/>
<use href="#star" x="1186.4" y="1132.1"/>
<use href="#star" x="1106.8" y="1072.8"/>
<use href="#star" x="1179.6" y="1077.9"/>
<use href="#star" x="1194.8" y="1064.4"/>
<use href="#star" x="1171.1" y="1037.3"/>
<use href="#star" x="1113.6" y="1042.3"/>
<use href="#star" x="1174.5" y="1005.1"/>
<use href="#star" x="1218.6" y="1016.9"/>
<use href="#star" x="1271.1" y="1016.9"/>
<use href="#star" x="1167.7" y="1066"/>
<rect x="881.8" y="783.5" width="534.5" height="479.8" fill="none" stroke="#000" stroke-width="2.25" stroke-linejoin="round"/>
<line x1="935.6" y1="1263.3" x2="935.6" y2="1276.8" stroke="#000" stroke-width="2.2"/>
<text x="935.6" y="1312.6" font-size="36" text-anchor="middle" >-0.06</text>
<line x1="1042.6" y1="1263.3" x2="1042.6" y2="1276.8" stroke="#000" stroke-width="2.2"/>
<text x="1042.6" y="1312.6" font-size="36" text-anchor="middle" >-0.03</text>
<line x1="1149.6" y1="1263.3" x2="1149.6" y2="1276.8" stroke="#000" stroke-width="2.2"/>
<text x="1149.6" y="1312.6" font-size="36" text-anchor="middle" >0.00</text>
<line x1="1256.6" y1="1263.3" x2="1256.6" y2="1276.8" stroke="#000" stroke-width="2.2"/>
<text x="1256.6" y="1312.6" font-size="36" text-anchor="middle" >0.03</text>
<line x1="1363.6" y1="1263.3" x2="1363.6" y2="1276.8" stroke="#000" stroke-width="2.2"/>
<text x="1363.6" y="1312.6" font-size="36" text-anchor="middle" >0.06</text>
<line x1="868.3" y1="830.9" x2="881.8" y2="830.9" stroke="#000" stroke-width="2.2"/>
<text x="860.6" y="841.4" font-size="36" text-anchor="end" >0.04</text>
<line x1="868.3" y1="927" x2="881.8" y2="927" stroke="#000" stroke-width="2.2"/>
<text x="860.6" y="937.5" font-size="36" text-anchor="end" >0.02</text>
<line x1="868.3" y1="1023.1" x2="881.8" y2="1023.1" stroke="#000" stroke-width="2.2"/>
<text x="860.6" y="1033.6" font-size="36" text-anchor="end" >0.00</text>
<line x1="868.3" y1="1119.2" x2="881.8" y2="1119.2" stroke="#000" stroke-width="2.2"/>
<text x="860.6" y="1129.7" font-size="36" text-anchor="end" >-0.02</text>
<line x1="868.3" y1="1215.3" x2="881.8" y2="1215.3" stroke="#000" stroke-width="2.2"/>
<text x="860.6" y="1225.8" font-size="36" text-anchor="end" >-0.04</text>
<text x="0" y="0" font-size="36" text-anchor="middle" transform="translate(1147,1370.8) scale(0.967,1)">nMDS1</text>
<text x="0" y="0" font-size="36" text-anchor="middle" transform="translate(771.3,1023.4) rotate(-90)">nMDS2</text>
<text x="1382.3" y="827.7" font-size="35.5" text-anchor="end" >2D stress: 0.10</text>
<text x="745.5" y="773.5" font-family="Liberation Sans, sans-serif" font-weight="bold" font-size="29.5">C</text>
<line x1="407.1" y1="1447" x2="407.1" y2="1926.8" stroke="#7d7d7d" stroke-width="3.1" stroke-dasharray="3 2.18"/>
<line x1="139" y1="1687" x2="673.5" y2="1687" stroke="#7d7d7d" stroke-width="3.1" stroke-dasharray="3 2.18"/>
<use href="#c" x="248.6" y="1568.8"/>
<use href="#c" x="355.8" y="1598.4"/>
<use href="#c" x="323.3" y="1648.4"/>
<use href="#c" x="372.8" y="1629.8"/>
<use href="#c" x="393.1" y="1624.7"/>
<use href="#c" x="413.4" y="1623.8"/>
<use href="#c" x="427.8" y="1614.5"/>
<use href="#c" x="435.4" y="1634.9"/>
<use href="#c" x="376.2" y="1643.3"/>
<use href="#c" x="382.9" y="1653.5"/>
<use href="#c" x="389.7" y="1685.7"/>
<use href="#c" x="347.4" y="1688.2"/>
<use href="#c" x="361.8" y="1697.5"/>
<use href="#c" x="253.9" y="1700.6"/>
<use href="#c" x="315.2" y="1708.5"/>
<use href="#c" x="479.3" y="1573.5"/>
<use href="#c" x="523.3" y="1598.1"/>
<use href="#c" x="507.6" y="1614"/>
<use href="#c" x="516.5" y="1621"/>
<use href="#c" x="491.5" y="1634.9"/>
<use href="#c" x="565.1" y="1645.4"/>
<use href="#c" x="526.2" y="1649.2"/>
<use href="#c" x="526.2" y="1657.7"/>
<use href="#c" x="503.7" y="1675.5"/>
<use href="#c" x="515.2" y="1677.2"/>
<use href="#c" x="523.6" y="1680.6"/>
<use href="#c" x="530.4" y="1686"/>
<use href="#c" x="471.1" y="1623"/>
<use href="#c" x="443.7" y="1610.3"/>
<use href="#c" x="427.1" y="1645"/>
<use href="#c" x="442.3" y="1651.8"/>
<use href="#c" x="439.8" y="1661.9"/>
<use href="#c" x="461.8" y="1650.1"/>
<use href="#c" x="467.8" y="1658.6"/>
<use href="#c" x="464.4" y="1702.6"/>
<use href="#c" x="477.1" y="1703.4"/>
<use href="#c" x="449.1" y="1704.3"/>
<use href="#c" x="430.5" y="1689"/>
<use href="#c" x="407" y="1730"/>
<use href="#c" x="428.7" y="1718.6"/>
<use href="#c" x="435.4" y="1739.8"/>
<use href="#c" x="497.9" y="1738.3"/>
<use href="#c" x="591.7" y="1745"/>
<use href="#c" x="564" y="1765.9"/>
<use href="#c" x="451.7" y="1749.3"/>
<use href="#c" x="440.7" y="1739.1"/>
<use href="#c" x="398" y="1628"/>
<use href="#c" x="401.5" y="1631.5"/>
<use href="#c" x="375.9" y="1662"/>
<use href="#c" x="370.2" y="1674.8"/>
<use href="#s" x="315.2" y="1606.6"/>
<use href="#s" x="388.3" y="1603.5"/>
<use href="#s" x="268.3" y="1645.9"/>
<use href="#s" x="265.2" y="1671.3"/>
<use href="#s" x="292.3" y="1659.4"/>
<use href="#s" x="295.7" y="1667"/>
<use href="#s" x="313.5" y="1670.4"/>
<use href="#s" x="321.1" y="1671.3"/>
<use href="#s" x="338" y="1665.3"/>
<use href="#s" x="358.4" y="1641.6"/>
<use href="#s" x="355.8" y="1662"/>
<use href="#s" x="352.4" y="1675.5"/>
<use href="#s" x="371.1" y="1675.5"/>
<use href="#s" x="393.1" y="1664.5"/>
<use href="#s" x="418.5" y="1652.6"/>
<use href="#s" x="306.7" y="1693.3"/>
<use href="#s" x="387.2" y="1700.9"/>
<use href="#s" x="335.5" y="1709.4"/>
<use href="#s" x="352.4" y="1713"/>
<use href="#s" x="241.5" y="1717"/>
<use href="#s" x="464.4" y="1623"/>
<use href="#s" x="509.2" y="1648.1"/>
<use href="#s" x="466.9" y="1666.2"/>
<use href="#s" x="481" y="1679.2"/>
<use href="#s" x="439" y="1675.5"/>
<use href="#s" x="410.5" y="1688"/>
<use href="#s" x="410.5" y="1697"/>
<use href="#s" x="439.8" y="1709.4"/>
<use href="#s" x="469.4" y="1714.5"/>
<use href="#s" x="444" y="1706"/>
<use href="#s" x="261" y="1728.8"/>
<use href="#s" x="242.3" y="1750"/>
<use href="#s" x="265.2" y="1761"/>
<use href="#s" x="223.7" y="1772"/>
<use href="#s" x="296.5" y="1751.7"/>
<use href="#s" x="301.6" y="1750.8"/>
<use href="#s" x="316.9" y="1756.7"/>
<use href="#s" x="294" y="1773.7"/>
<use href="#s" x="361.8" y="1757.6"/>
<use href="#s" x="320.3" y="1724.6"/>
<use href="#s" x="410.7" y="1722"/>
<use href="#s" x="427.8" y="1752.5"/>
<use href="#s" x="417.6" y="1762.7"/>
<use href="#s" x="399.9" y="1765.2"/>
<use href="#s" x="397.3" y="1782.1"/>
<use href="#s" x="412.6" y="1788.9"/>
<use href="#s" x="518.6" y="1740"/>
<use href="#s" x="475.9" y="1776.7"/>
<use href="#s" x="529.9" y="1809.9"/>
<use href="#s" x="532.1" y="1846.7"/>
<use href="#s" x="472" y="1886.5"/>
<use href="#s" x="450.8" y="1739.1"/>
<use href="#s" x="440.7" y="1717.1"/>
<use href="#ast" x="248.6" y="1568.8"/>
<use href="#ast" x="355.8" y="1598.4"/>
<use href="#ast" x="323.3" y="1648.4"/>
<use href="#ast" x="372.8" y="1629.8"/>
<use href="#ast" x="393.1" y="1624.7"/>
<use href="#ast" x="413.4" y="1623.8"/>
<use href="#ast" x="427.8" y="1614.5"/>
<use href="#ast" x="435.4" y="1634.9"/>
<use href="#ast" x="376.2" y="1643.3"/>
<use href="#ast" x="382.9" y="1653.5"/>
<use href="#ast" x="389.7" y="1685.7"/>
<use href="#ast" x="347.4" y="1688.2"/>
<use href="#ast" x="361.8" y="1697.5"/>
<use href="#ast" x="253.9" y="1700.6"/>
<use href="#ast" x="315.2" y="1708.5"/>
<use href="#ast" x="479.3" y="1573.5"/>
<use href="#ast" x="523.3" y="1598.1"/>
<use href="#ast" x="507.6" y="1614"/>
<use href="#ast" x="516.5" y="1621"/>
<use href="#ast" x="491.5" y="1634.9"/>
<use href="#ast" x="565.1" y="1645.4"/>
<use href="#ast" x="526.2" y="1649.2"/>
<use href="#ast" x="526.2" y="1657.7"/>
<use href="#ast" x="503.7" y="1675.5"/>
<use href="#ast" x="515.2" y="1677.2"/>
<use href="#ast" x="523.6" y="1680.6"/>
<use href="#ast" x="530.4" y="1686"/>
<use href="#ast" x="471.1" y="1623"/>
<use href="#ast" x="443.7" y="1610.3"/>
<use href="#ast" x="427.1" y="1645"/>
<use href="#ast" x="442.3" y="1651.8"/>
<use href="#ast" x="439.8" y="1661.9"/>
<use href="#ast" x="461.8" y="1650.1"/>
<use href="#ast" x="467.8" y="1658.6"/>
<use href="#ast" x="464.4" y="1702.6"/>
<use href="#ast" x="477.1" y="1703.4"/>
<use href="#ast" x="449.1" y="1704.3"/>
<use href="#ast" x="430.5" y="1689"/>
<use href="#ast" x="407" y="1730"/>
<use href="#ast" x="428.7" y="1718.6"/>
<use href="#ast" x="435.4" y="1739.8"/>
<use href="#ast" x="497.9" y="1738.3"/>
<use href="#ast" x="591.7" y="1745"/>
<use href="#ast" x="564" y="1765.9"/>
<use href="#ast" x="451.7" y="1749.3"/>
<use href="#ast" x="440.7" y="1739.1"/>
<use href="#ast" x="398" y="1628"/>
<use href="#ast" x="401.5" y="1631.5"/>
<use href="#ast" x="375.9" y="1662"/>
<use href="#ast" x="370.2" y="1674.8"/>
<use href="#star" x="315.2" y="1606.6"/>
<use href="#star" x="388.3" y="1603.5"/>
<use href="#star" x="268.3" y="1645.9"/>
<use href="#star" x="265.2" y="1671.3"/>
<use href="#star" x="292.3" y="1659.4"/>
<use href="#star" x="295.7" y="1667"/>
<use href="#star" x="313.5" y="1670.4"/>
<use href="#star" x="321.1" y="1671.3"/>
<use href="#star" x="338" y="1665.3"/>
<use href="#star" x="358.4" y="1641.6"/>
<use href="#star" x="355.8" y="1662"/>
<use href="#star" x="352.4" y="1675.5"/>
<use href="#star" x="371.1" y="1675.5"/>
<use href="#star" x="393.1" y="1664.5"/>
<use href="#star" x="418.5" y="1652.6"/>
<use href="#star" x="306.7" y="1693.3"/>
<use href="#star" x="387.2" y="1700.9"/>
<use href="#star" x="335.5" y="1709.4"/>
<use href="#star" x="352.4" y="1713"/>
<use href="#star" x="241.5" y="1717"/>
<use href="#star" x="464.4" y="1623"/>
<use href="#star" x="509.2" y="1648.1"/>
<use href="#star" x="466.9" y="1666.2"/>
<use href="#star" x="481" y="1679.2"/>
<use href="#star" x="439" y="1675.5"/>
<use href="#star" x="410.5" y="1688"/>
<use href="#star" x="410.5" y="1697"/>
<use href="#star" x="439.8" y="1709.4"/>
<use href="#star" x="469.4" y="1714.5"/>
<use href="#star" x="444" y="1706"/>
<use href="#star" x="261" y="1728.8"/>
<use href="#star" x="242.3" y="1750"/>
<use href="#star" x="265.2" y="1761"/>
<use href="#star" x="223.7" y="1772"/>
<use href="#star" x="296.5" y="1751.7"/>
<use href="#star" x="301.6" y="1750.8"/>
<use href="#star" x="316.9" y="1756.7"/>
<use href="#star" x="294" y="1773.7"/>
<use href="#star" x="361.8" y="1757.6"/>
<use href="#star" x="320.3" y="1724.6"/>
<use href="#star" x="410.7" y="1722"/>
<use href="#star" x="427.8" y="1752.5"/>
<use href="#star" x="417.6" y="1762.7"/>
<use href="#star" x="399.9" y="1765.2"/>
<use href="#star" x="397.3" y="1782.1"/>
<use href="#star" x="412.6" y="1788.9"/>
<use href="#star" x="518.6" y="1740"/>
<use href="#star" x="475.9" y="1776.7"/>
<use href="#star" x="529.9" y="1809.9"/>
<use href="#star" x="532.1" y="1846.7"/>
<use href="#star" x="472" y="1886.5"/>
<use href="#star" x="450.8" y="1739.1"/>
<use href="#star" x="440.7" y="1717.1"/>
<rect x="139" y="1447" width="534.5" height="479.8" fill="none" stroke="#000" stroke-width="2.25" stroke-linejoin="round"/>
<line x1="192.8" y1="1926.8" x2="192.8" y2="1940.3" stroke="#000" stroke-width="2.2"/>
<text x="192.8" y="1977.6" font-size="36" text-anchor="middle" >-0.06</text>
<line x1="299.8" y1="1926.8" x2="299.8" y2="1940.3" stroke="#000" stroke-width="2.2"/>
<text x="299.8" y="1977.6" font-size="36" text-anchor="middle" >-0.03</text>
<line x1="406.8" y1="1926.8" x2="406.8" y2="1940.3" stroke="#000" stroke-width="2.2"/>
<text x="406.8" y="1977.6" font-size="36" text-anchor="middle" >0.00</text>
<line x1="513.8" y1="1926.8" x2="513.8" y2="1940.3" stroke="#000" stroke-width="2.2"/>
<text x="513.8" y="1977.6" font-size="36" text-anchor="middle" >0.03</text>
<line x1="620.8" y1="1926.8" x2="620.8" y2="1940.3" stroke="#000" stroke-width="2.2"/>
<text x="620.8" y="1977.6" font-size="36" text-anchor="middle" >0.06</text>
<line x1="125.5" y1="1494.4" x2="139" y2="1494.4" stroke="#000" stroke-width="2.2"/>
<text x="117.8" y="1504.9" font-size="36" text-anchor="end" >0.04</text>
<line x1="125.5" y1="1590.5" x2="139" y2="1590.5" stroke="#000" stroke-width="2.2"/>
<text x="117.8" y="1601" font-size="36" text-anchor="end" >0.02</text>
<line x1="125.5" y1="1686.6" x2="139" y2="1686.6" stroke="#000" stroke-width="2.2"/>
<text x="117.8" y="1697.1" font-size="36" text-anchor="end" >0.00</text>
<line x1="125.5" y1="1782.7" x2="139" y2="1782.7" stroke="#000" stroke-width="2.2"/>
<text x="117.8" y="1793.2" font-size="36" text-anchor="end" >-0.02</text>
<line x1="125.5" y1="1878.8" x2="139" y2="1878.8" stroke="#000" stroke-width="2.2"/>
<text x="117.8" y="1889.3" font-size="36" text-anchor="end" >-0.04</text>
<text x="0" y="0" font-size="36" text-anchor="middle" transform="translate(404.2,2035.9) scale(0.967,1)">nMDS1</text>
<text x="0" y="0" font-size="36" text-anchor="middle" transform="translate(28.5,1686.9) rotate(-90)">nMDS2</text>
<text x="637.5" y="1490" font-size="35.5" text-anchor="end" >2D stress: 0.10</text>
<text x="4.5" y="1432.3" font-family="Liberation Sans, sans-serif" font-weight="bold" font-size="29.5">D</text>
<line x1="1149.9" y1="1447" x2="1149.9" y2="1926.8" stroke="#7d7d7d" stroke-width="3.1" stroke-dasharray="3 2.18"/>
<line x1="881.8" y1="1687" x2="1416.3" y2="1687" stroke="#7d7d7d" stroke-width="3.1" stroke-dasharray="3 2.18"/>
<use href="#s" x="930" y="1589.1"/>
<use href="#s" x="1035.3" y="1633.2"/>
<use href="#s" x="1043.8" y="1638.2"/>
<use href="#s" x="1032.8" y="1641.6"/>
<use href="#s" x="1008.2" y="1663.6"/>
<use href="#s" x="1030.3" y="1663.6"/>
<use href="#s" x="1085.3" y="1677"/>
<use href="#s" x="1108.2" y="1668.7"/>
<use href="#s" x="1107.3" y="1684"/>
<use href="#s" x="1116.6" y="1695.8"/>
<use href="#s" x="1128.5" y="1693.3"/>
<use href="#s" x="1109.9" y="1706"/>
<use href="#s" x="1037.9" y="1697.5"/>
<use href="#s" x="1069.2" y="1704.3"/>
<use href="#s" x="1019.2" y="1712.8"/>
<use href="#s" x="1038.7" y="1710.2"/>
<use href="#s" x="957.4" y="1711.5"/>
<use href="#s" x="979.4" y="1722"/>
<use href="#s" x="1054" y="1716.1"/>
<use href="#s" x="1125.1" y="1716.1"/>
<use href="#s" x="955.4" y="1755.9"/>
<use href="#s" x="983.2" y="1788.4"/>
<use href="#s" x="1012.5" y="1799.4"/>
<use href="#s" x="1006.9" y="1768.1"/>
<use href="#s" x="1018.4" y="1773.2"/>
<use href="#s" x="1037.4" y="1768.1"/>
<use href="#s" x="1049.2" y="1771.8"/>
<use href="#s" x="1055.3" y="1787.6"/>
<use href="#s" x="1070.6" y="1808.4"/>
<use href="#s" x="1083.1" y="1837.2"/>
<use href="#s" x="1060.4" y="1745.2"/>
<use href="#s" x="1039.6" y="1725.7"/>
<use href="#s" x="1049.7" y="1719"/>
<use href="#s" x="1060.7" y="1719.8"/>
<use href="#s" x="1103.1" y="1725.7"/>
<use href="#s" x="1120.9" y="1719"/>
<use href="#s" x="1089.5" y="1754.5"/>
<use href="#s" x="1093.8" y="1751.1"/>
<use href="#s" x="1095.5" y="1765.5"/>
<use href="#s" x="1109.9" y="1755.4"/>
<use href="#s" x="1107.3" y="1777.4"/>
<use href="#s" x="1134.4" y="1741.8"/>
<use href="#s" x="1142" y="1746.9"/>
<use href="#s" x="1131.9" y="1790.1"/>
<use href="#s" x="1142.9" y="1786.7"/>
<use href="#s" x="1147" y="1715.6"/>
<use href="#s" x="1160.5" y="1687.1"/>
<use href="#s" x="1159.6" y="1699.8"/>
<use href="#s" x="1152.9" y="1715"/>
<use href="#s" x="1155.4" y="1733.7"/>
<use href="#s" x="1183.4" y="1749.8"/>
<use href="#s" x="1155.4" y="1769.2"/>
<use href="#s" x="1169.8" y="1775.2"/>
<use href="#s" x="1186.7" y="1771.8"/>
<use href="#s" x="1165.6" y="1805.7"/>
<use href="#s" x="1172.3" y="1818.4"/>
<use href="#s" x="1194.4" y="1803.1"/>
<use href="#s" x="1215.5" y="1798"/>
<use href="#s" x="1237.6" y="1798.9"/>
<use href="#s" x="1318.9" y="1790.4"/>
<use href="#s" x="1207.1" y="1732"/>
<use href="#s" x="1257" y="1693"/>
<use href="#s" x="1184.2" y="1715"/>
<use href="#s" x="1131.7" y="1693.9"/>
<use href="#c" x="1097.5" y="1530.5"/>
<use href="#c" x="998.1" y="1613.7"/>
<use href="#c" x="1015" y="1609.4"/>
<use href="#c" x="1032.8" y="1604.4"/>
<use href="#c" x="1050.6" y="1598.4"/>
<use href="#c" x="1065" y="1600.1"/>
<use href="#c" x="1068.4" y="1614.5"/>
<use href="#c" x="1002.3" y="1636.5"/>
<use href="#c" x="1077.7" y="1658.6"/>
<use href="#c" x="1093.8" y="1581.5"/>
<use href="#c" x="1109.9" y="1582.3"/>
<use href="#c" x="1125.1" y="1579.8"/>
<use href="#c" x="1139.8" y="1560.6"/>
<use href="#c" x="1096.3" y="1598.4"/>
<use href="#c" x="1098" y="1617.9"/>
<use href="#c" x="1106.5" y="1617.9"/>
<use href="#c" x="1130.2" y="1612.8"/>
<use href="#c" x="1143.7" y="1594.2"/>
<use href="#c" x="1101.4" y="1641.6"/>
<use href="#c" x="1099.7" y="1648.4"/>
<use href="#c" x="1118.3" y="1634.9"/>
<use href="#c" x="1130.2" y="1641.6"/>
<use href="#c" x="1120" y="1665.3"/>
<use href="#c" x="1143.7" y="1626.4"/>
<use href="#c" x="1142" y="1658.6"/>
<use href="#c" x="1204.5" y="1577.1"/>
<use href="#c" x="1202.8" y="1584.7"/>
<use href="#c" x="1224" y="1583"/>
<use href="#c" x="1239.2" y="1581.3"/>
<use href="#c" x="1296.8" y="1605.9"/>
<use href="#c" x="1143.6" y="1600"/>
<use href="#c" x="1166.4" y="1608.4"/>
<use href="#c" x="1180.8" y="1611.8"/>
<use href="#c" x="1209.6" y="1603.3"/>
<use href="#c" x="1204.5" y="1615.2"/>
<use href="#c" x="1259.6" y="1611"/>
<use href="#c" x="1249.4" y="1623.6"/>
<use href="#c" x="1283.3" y="1629.6"/>
<use href="#c" x="1255.3" y="1642.3"/>
<use href="#c" x="1191" y="1630.4"/>
<use href="#c" x="1218.9" y="1635.5"/>
<use href="#c" x="1233.3" y="1645.7"/>
<use href="#c" x="1162.2" y="1623.6"/>
<use href="#c" x="1158.8" y="1635.5"/>
<use href="#c" x="1133.4" y="1615.2"/>
<use href="#c" x="1180.8" y="1647.4"/>
<use href="#c" x="1199.4" y="1642.3"/>
<use href="#c" x="1318.9" y="1652.4"/>
<use href="#c" x="1318" y="1666"/>
<use href="#c" x="1346" y="1650.7"/>
<use href="#c" x="1277.4" y="1671.5"/>
<use href="#c" x="1255.3" y="1659.2"/>
<use href="#c" x="1231.6" y="1662.6"/>
<use href="#c" x="1201.1" y="1662.6"/>
<use href="#c" x="1148.6" y="1659.2"/>
<use href="#c" x="1174" y="1659.2"/>
<use href="#c" x="1135.1" y="1659.2"/>
<use href="#c" x="1199.4" y="1672.8"/>
<use href="#c" x="1231.6" y="1674.5"/>
<use href="#c" x="1180.8" y="1692.2"/>
<use href="#c" x="1179.1" y="1719.3"/>
<use href="#c" x="1202.8" y="1699"/>
<use href="#c" x="1204.5" y="1712.5"/>
<use href="#c" x="1226.5" y="1690.5"/>
<use href="#c" x="1246.9" y="1704"/>
<use href="#c" x="1265.5" y="1712.5"/>
<use href="#c" x="1294.3" y="1718.4"/>
<use href="#c" x="1322.7" y="1709.1"/>
<use href="#c" x="1239.2" y="1720.1"/>
<use href="#c" x="1235" y="1736.2"/>
<use href="#c" x="1259.6" y="1733.7"/>
<use href="#c" x="1289.2" y="1750.6"/>
<use href="#c" x="1249.4" y="1759.1"/>
<use href="#c" x="1275.7" y="1764.2"/>
<use href="#c" x="1304.5" y="1831.9"/>
<use href="#c" x="1327.3" y="1834.5"/>
<use href="#c" x="1213" y="1683.7"/>
<use href="#ast" x="930" y="1589.1"/>
<use href="#ast" x="1035.3" y="1633.2"/>
<use href="#ast" x="1043.8" y="1638.2"/>
<use href="#ast" x="1032.8" y="1641.6"/>
<use href="#ast" x="1008.2" y="1663.6"/>
<use href="#ast" x="1030.3" y="1663.6"/>
<use href="#ast" x="1085.3" y="1677"/>
<use href="#ast" x="1108.2" y="1668.7"/>
<use href="#ast" x="1107.3" y="1684"/>
<use href="#ast" x="1116.6" y="1695.8"/>
<use href="#ast" x="1128.5" y="1693.3"/>
<use href="#ast" x="1109.9" y="1706"/>
<use href="#ast" x="1037.9" y="1697.5"/>
<use href="#ast" x="1069.2" y="1704.3"/>
<use href="#ast" x="1019.2" y="1712.8"/>
<use href="#ast" x="1038.7" y="1710.2"/>
<use href="#ast" x="957.4" y="1711.5"/>
<use href="#ast" x="979.4" y="1722"/>
<use href="#ast" x="1054" y="1716.1"/>
<use href="#ast" x="1125.1" y="1716.1"/>
<use href="#ast" x="955.4" y="1755.9"/>
<use href="#ast" x="983.2" y="1788.4"/>
<use href="#ast" x="1012.5" y="1799.4"/>
<use href="#ast" x="1006.9" y="1768.1"/>
<use href="#ast" x="1018.4" y="1773.2"/>
<use href="#ast" x="1037.4" y="1768.1"/>
<use href="#ast" x="1049.2" y="1771.8"/>
<use href="#ast" x="1055.3" y="1787.6"/>
<use href="#ast" x="1070.6" y="1808.4"/>
<use href="#ast" x="1083.1" y="1837.2"/>
<use href="#ast" x="1060.4" y="1745.2"/>
<use href="#ast" x="1039.6" y="1725.7"/>
<use href="#ast" x="1049.7" y="1719"/>
<use href="#ast" x="1060.7" y="1719.8"/>
<use href="#ast" x="1103.1" y="1725.7"/>
<use href="#ast" x="1120.9" y="1719"/>
<use href="#ast" x="1089.5" y="1754.5"/>
<use href="#ast" x="1093.8" y="1751.1"/>
<use href="#ast" x="1095.5" y="1765.5"/>
<use href="#ast" x="1109.9" y="1755.4"/>
<use href="#ast" x="1107.3" y="1777.4"/>
<use href="#ast" x="1134.4" y="1741.8"/>
<use href="#ast" x="1142" y="1746.9"/>
<use href="#ast" x="1131.9" y="1790.1"/>
<use href="#ast" x="1142.9" y="1786.7"/>
<use href="#ast" x="1147" y="1715.6"/>
<use href="#ast" x="1160.5" y="1687.1"/>
<use href="#ast" x="1159.6" y="1699.8"/>
<use href="#ast" x="1152.9" y="1715"/>
<use href="#ast" x="1155.4" y="1733.7"/>
<use href="#ast" x="1183.4" y="1749.8"/>
<use href="#ast" x="1155.4" y="1769.2"/>
<use href="#ast" x="1169.8" y="1775.2"/>
<use href="#ast" x="1186.7" y="1771.8"/>
<use href="#ast" x="1165.6" y="1805.7"/>
<use href="#ast" x="1172.3" y="1818.4"/>
<use href="#ast" x="1194.4" y="1803.1"/>
<use href="#ast" x="1215.5" y="1798"/>
<use href="#ast" x="1237.6" y="1798.9"/>
<use href="#ast" x="1318.9" y="1790.4"/>
<use href="#ast" x="1207.1" y="1732"/>
<use href="#ast" x="1257" y="1693"/>
<use href="#ast" x="1184.2" y="1715"/>
<use href="#ast" x="1131.7" y="1693.9"/>
<use href="#star" x="1097.5" y="1530.5"/>
<use href="#star" x="998.1" y="1613.7"/>
<use href="#star" x="1015" y="1609.4"/>
<use href="#star" x="1032.8" y="1604.4"/>
<use href="#star" x="1050.6" y="1598.4"/>
<use href="#star" x="1065" y="1600.1"/>
<use href="#star" x="1068.4" y="1614.5"/>
<use href="#star" x="1002.3" y="1636.5"/>
<use href="#star" x="1077.7" y="1658.6"/>
<use href="#star" x="1093.8" y="1581.5"/>
<use href="#star" x="1109.9" y="1582.3"/>
<use href="#star" x="1125.1" y="1579.8"/>
<use href="#star" x="1139.8" y="1560.6"/>
<use href="#star" x="1096.3" y="1598.4"/>
<use href="#star" x="1098" y="1617.9"/>
<use href="#star" x="1106.5" y="1617.9"/>
<use href="#star" x="1130.2" y="1612.8"/>
<use href="#star" x="1143.7" y="1594.2"/>
<use href="#star" x="1101.4" y="1641.6"/>
<use href="#star" x="1099.7" y="1648.4"/>
<use href="#star" x="1118.3" y="1634.9"/>
<use href="#star" x="1130.2" y="1641.6"/>
<use href="#star" x="1120" y="1665.3"/>
<use href="#star" x="1143.7" y="1626.4"/>
<use href="#star" x="1142" y="1658.6"/>
<use href="#star" x="1204.5" y="1577.1"/>
<use href="#star" x="1202.8" y="1584.7"/>
<use href="#star" x="1224" y="1583"/>
<use href="#star" x="1239.2" y="1581.3"/>
<use href="#star" x="1296.8" y="1605.9"/>
<use href="#star" x="1143.6" y="1600"/>
<use href="#star" x="1166.4" y="1608.4"/>
<use href="#star" x="1180.8" y="1611.8"/>
<use href="#star" x="1209.6" y="1603.3"/>
<use href="#star" x="1204.5" y="1615.2"/>
<use href="#star" x="1259.6" y="1611"/>
<use href="#star" x="1249.4" y="1623.6"/>
<use href="#star" x="1283.3" y="1629.6"/>
<use href="#star" x="1255.3" y="1642.3"/>
<use href="#star" x="1191" y="1630.4"/>
<use href="#star" x="1218.9" y="1635.5"/>
<use href="#star" x="1233.3" y="1645.7"/>
<use href="#star" x="1162.2" y="1623.6"/>
<use href="#star" x="1158.8" y="1635.5"/>
<use href="#star" x="1133.4" y="1615.2"/>
<use href="#star" x="1180.8" y="1647.4"/>
<use href="#star" x="1199.4" y="1642.3"/>
<use href="#star" x="1318.9" y="1652.4"/>
<use href="#star" x="1318" y="1666"/>
<use href="#star" x="1346" y="1650.7"/>
<use href="#star" x="1277.4" y="1671.5"/>
<use href="#star" x="1255.3" y="1659.2"/>
<use href="#star" x="1231.6" y="1662.6"/>
<use href="#star" x="1201.1" y="1662.6"/>
<use href="#star" x="1148.6" y="1659.2"/>
<use href="#star" x="1174" y="1659.2"/>
<use href="#star" x="1135.1" y="1659.2"/>
<use href="#star" x="1199.4" y="1672.8"/>
<use href="#star" x="1231.6" y="1674.5"/>
<use href="#star" x="1180.8" y="1692.2"/>
<use href="#star" x="1179.1" y="1719.3"/>
<use href="#star" x="1202.8" y="1699"/>
<use href="#star" x="1204.5" y="1712.5"/>
<use href="#star" x="1226.5" y="1690.5"/>
<use href="#star" x="1246.9" y="1704"/>
<use href="#star" x="1265.5" y="1712.5"/>
<use href="#star" x="1294.3" y="1718.4"/>
<use href="#star" x="1322.7" y="1709.1"/>
<use href="#star" x="1239.2" y="1720.1"/>
<use href="#star" x="1235" y="1736.2"/>
<use href="#star" x="1259.6" y="1733.7"/>
<use href="#star" x="1289.2" y="1750.6"/>
<use href="#star" x="1249.4" y="1759.1"/>
<use href="#star" x="1275.7" y="1764.2"/>
<use href="#star" x="1304.5" y="1831.9"/>
<use href="#star" x="1327.3" y="1834.5"/>
<use href="#star" x="1213" y="1683.7"/>
<rect x="881.8" y="1447" width="534.5" height="479.8" fill="none" stroke="#000" stroke-width="2.25" stroke-linejoin="round"/>
<line x1="935.6" y1="1926.8" x2="935.6" y2="1940.3" stroke="#000" stroke-width="2.2"/>
<text x="935.6" y="1976.9" font-size="36" text-anchor="middle" >-0.06</text>
<line x1="1042.6" y1="1926.8" x2="1042.6" y2="1940.3" stroke="#000" stroke-width="2.2"/>
<text x="1042.6" y="1976.9" font-size="36" text-anchor="middle" >-0.03</text>
<line x1="1149.6" y1="1926.8" x2="1149.6" y2="1940.3" stroke="#000" stroke-width="2.2"/>
<text x="1149.6" y="1976.9" font-size="36" text-anchor="middle" >0.00</text>
<line x1="1256.6" y1="1926.8" x2="1256.6" y2="1940.3" stroke="#000" stroke-width="2.2"/>
<text x="1256.6" y="1976.9" font-size="36" text-anchor="middle" >0.03</text>
<line x1="1363.6" y1="1926.8" x2="1363.6" y2="1940.3" stroke="#000" stroke-width="2.2"/>
<text x="1363.6" y="1976.9" font-size="36" text-anchor="middle" >0.06</text>
<line x1="868.3" y1="1494.4" x2="881.8" y2="1494.4" stroke="#000" stroke-width="2.2"/>
<text x="860.6" y="1504.9" font-size="36" text-anchor="end" >0.04</text>
<line x1="868.3" y1="1590.5" x2="881.8" y2="1590.5" stroke="#000" stroke-width="2.2"/>
<text x="860.6" y="1601" font-size="36" text-anchor="end" >0.02</text>
<line x1="868.3" y1="1686.6" x2="881.8" y2="1686.6" stroke="#000" stroke-width="2.2"/>
<text x="860.6" y="1697.1" font-size="36" text-anchor="end" >0.00</text>
<line x1="868.3" y1="1782.7" x2="881.8" y2="1782.7" stroke="#000" stroke-width="2.2"/>
<text x="860.6" y="1793.2" font-size="36" text-anchor="end" >-0.02</text>
<line x1="868.3" y1="1878.8" x2="881.8" y2="1878.8" stroke="#000" stroke-width="2.2"/>
<text x="860.6" y="1889.3" font-size="36" text-anchor="end" >-0.04</text>
<text x="0" y="0" font-size="36" text-anchor="middle" transform="translate(1147,2037.7) scale(0.967,1)">nMDS1</text>
<text x="0" y="0" font-size="36" text-anchor="middle" transform="translate(771.3,1686.9) rotate(-90)">nMDS2</text>
<text x="1382.4" y="1495.3" font-size="35.5" text-anchor="end" >2D stress: 0.09</text>
<text x="745.5" y="1432" font-family="Liberation Sans, sans-serif" font-weight="bold" font-size="29.5">E</text>
<text x="1144" y="227.3" font-size="35.6" text-anchor="start" >Form</text>
<circle cx="1184.3" cy="258.5" r="12.2" fill="#ee3a41"/>
<text x="1232" y="270.7" font-size="35.6" text-anchor="start" >Dwarf</text>
<rect x="1172.2" y="291.5" width="22" height="21.8" fill="#386cb8"/>
<text x="1232" y="313.7" font-size="35.2" text-anchor="start" >Middle-sized</text>
<text x="1144.5" y="357.7" font-size="35.6" text-anchor="start" >Sex</text>
<path d="M1175.4,390.6H1192.4M1183.9,382.1V399.1M1175.6,382.3L1192.2,398.9M1175.6,398.9L1192.2,382.3" stroke="#1a1a1a" stroke-width="1.15" fill="none"/>
<path transform="translate(1184.1,434.9)" d="M0,-9.6L2.3,-3.1L9.2,-3.0L3.7,1.2L5.7,7.8L0,3.9L-5.7,7.8L-3.7,1.2L-9.2,-3.0L-2.3,-3.1Z" stroke="#222" stroke-width="1.2" fill="none"/>
<text x="1232" y="400.6" font-size="35.6" text-anchor="start" >Female</text>
<text x="1232" y="445.7" font-size="35.6" text-anchor="start" >Male</text>
</svg></body></html>
